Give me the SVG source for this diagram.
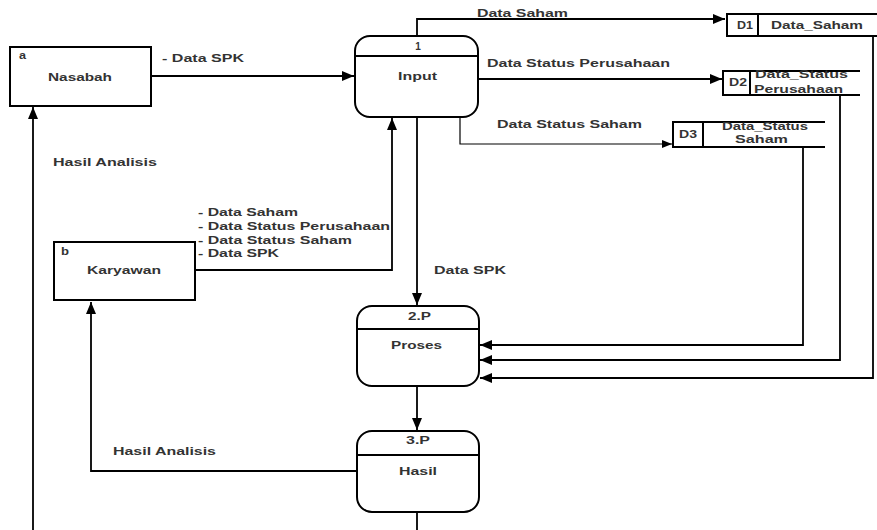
<svg xmlns="http://www.w3.org/2000/svg" width="877" height="530" viewBox="0 0 877 530">
<defs>
<style>
.box{fill:#fff;stroke:#000;stroke-width:2}
.ln{fill:none;stroke:#000;stroke-width:1.8}
.thin{fill:none;stroke:#000;stroke-width:1.2}
text{font-family:"Liberation Sans",Arial,sans-serif;font-size:10px;font-weight:bold;fill:#333}
</style>
<marker id="ah" markerUnits="userSpaceOnUse" markerWidth="12" markerHeight="10" refX="12" refY="5" orient="auto">
<path d="M0,0 L12,5 L0,10 z" fill="#000"/>
</marker>
<marker id="ahs" markerUnits="userSpaceOnUse" markerWidth="10" markerHeight="8" refX="10" refY="4" orient="auto">
<path d="M0,0 L10,4 L0,8 z" fill="#000"/>
</marker>
</defs>
<rect width="877" height="530" fill="#fff"/>

<g id="connectors">
<path class="ln" d="M151,76 H354" marker-end="url(#ah)"/>
<path class="ln" d="M417,36 V19 H725" marker-end="url(#ah)"/>
<path class="ln" d="M478,79 H722" marker-end="url(#ah)"/>
<path class="thin" d="M460,117 V144 H672" marker-end="url(#ahs)"/>
<path class="ln" d="M195,270 H392 V118" marker-end="url(#ah)"/>
<path class="ln" d="M417,117 V305" marker-end="url(#ah)"/>
<path class="ln" d="M803,147 V345 H480" marker-end="url(#ah)"/>
<path class="ln" d="M840,95 V360 H480" marker-end="url(#ah)"/>
<path class="ln" d="M873,36 V378 H480" marker-end="url(#ah)"/>
<path class="ln" d="M417,386 V430" marker-end="url(#ah)"/>
<path class="ln" d="M357,471 H91 V302" marker-end="url(#ah)"/>
<path class="ln" d="M417,512 V532"/>
<path class="ln" d="M33,532 V107" marker-end="url(#ah)"/>
<text x="162" y="62" textLength="82" lengthAdjust="spacingAndGlyphs">- Data SPK</text>
<text x="477" y="17" textLength="91" lengthAdjust="spacingAndGlyphs">Data Saham</text>
<text x="487" y="67" textLength="183" lengthAdjust="spacingAndGlyphs">Data Status Perusahaan</text>
<text x="497" y="128" textLength="145" lengthAdjust="spacingAndGlyphs">Data Status Saham</text>
<text x="53" y="166" textLength="104" lengthAdjust="spacingAndGlyphs">Hasil Analisis</text>
<text x="198" y="216" textLength="100" lengthAdjust="spacingAndGlyphs">- Data Saham</text>
<text x="198" y="230" textLength="192" lengthAdjust="spacingAndGlyphs">- Data Status Perusahaan</text>
<text x="198" y="244" textLength="154" lengthAdjust="spacingAndGlyphs">- Data Status Saham</text>
<text x="198" y="257" textLength="81" lengthAdjust="spacingAndGlyphs">- Data SPK</text>
<text x="434" y="274" textLength="72" lengthAdjust="spacingAndGlyphs">Data SPK</text>
<text x="113" y="455" textLength="103" lengthAdjust="spacingAndGlyphs">Hasil Analisis</text>
</g>

<g id="nasabah">
<rect class="box" x="10" y="47" width="141" height="59"/>
<text x="19" y="59" textLength="7" lengthAdjust="spacingAndGlyphs">a</text>
<text x="48" y="81" textLength="64" lengthAdjust="spacingAndGlyphs">Nasabah</text>
</g>

<g id="karyawan">
<rect class="box" x="54" y="242" width="141" height="58"/>
<text x="61" y="255" textLength="8" lengthAdjust="spacingAndGlyphs">b</text>
<text x="87" y="274" textLength="74" lengthAdjust="spacingAndGlyphs">Karyawan</text>
</g>

<g id="p1-input">
<rect class="box" x="355" y="36" width="123" height="81" rx="15"/>
<path class="box" d="M355,56 H478"/>
<text x="418" y="50" text-anchor="middle">1</text>
<text x="398" y="80" textLength="39" lengthAdjust="spacingAndGlyphs">Input</text>
</g>

<g id="p2-proses">
<rect class="box" x="357" y="306" width="122" height="80" rx="15"/>
<path class="box" d="M357,329 H479"/>
<text x="408" y="320" textLength="23" lengthAdjust="spacingAndGlyphs">2.P</text>
<text x="391" y="349" textLength="51" lengthAdjust="spacingAndGlyphs">Proses</text>
</g>

<g id="p3-hasil">
<rect class="box" x="357" y="431" width="122" height="81" rx="15"/>
<path class="box" d="M357,455 H479"/>
<text x="406" y="444" textLength="24" lengthAdjust="spacingAndGlyphs">3.P</text>
<text x="399" y="475" textLength="38" lengthAdjust="spacingAndGlyphs">Hasil</text>
</g>

<g id="d1-data-saham">
<path class="box" d="M880,14 H727 V36 H880 M758,14 V36"/>
<text x="737" y="29" textLength="16" lengthAdjust="spacingAndGlyphs">D1</text>
<text x="771" y="29" textLength="92" lengthAdjust="spacingAndGlyphs">Data_Saham</text>
</g>

<g id="d2-data-status-perusahaan">
<path class="box" d="M860,71 H723 V95 H860 M750,71 V95"/>
<text x="729" y="86" textLength="18" lengthAdjust="spacingAndGlyphs">D2</text>
<text x="755" y="78" textLength="93" lengthAdjust="spacingAndGlyphs">Data_Status</text>
<text x="754" y="93" textLength="89" lengthAdjust="spacingAndGlyphs">Perusahaan</text>
</g>

<g id="d3-data-status-saham">
<path class="box" d="M825,122 H673 V147 H825 M703,122 V147"/>
<text x="679" y="138" textLength="18" lengthAdjust="spacingAndGlyphs">D3</text>
<text x="722" y="130" textLength="86" lengthAdjust="spacingAndGlyphs">Data_Status</text>
<text x="735" y="143" textLength="53" lengthAdjust="spacingAndGlyphs">Saham</text>
</g>
</svg>
